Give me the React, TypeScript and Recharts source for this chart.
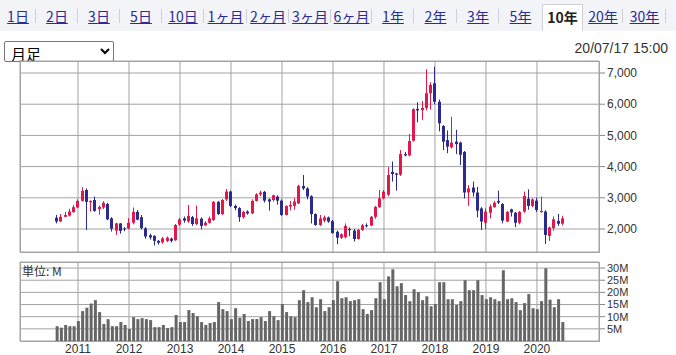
import { ComposedChart, Bar, XAxis, YAxis, CartesianGrid } from "recharts";

// monthly candles, Aug 2010 .. Jul 2020
const FIRST_MONTH = -5; // months from Jan 2011
const YEAR_LABELS = ["2011", "2012", "2013", "2014", "2015", "2016", "2017", "2018", "2019", "2020"];
const PRICE_TICKS = [2000, 3000, 4000, 5000, 6000, 7000];
const VOL_TICKS = [5, 10, 15, 20, 25, 30];
const TABS = ["1日", "2日", "3日", "5日", "10日", "1ヶ月", "2ヶ月", "3ヶ月", "6ヶ月", "1年", "2年", "3年", "5年", "10年", "20年", "30年"];
const ACTIVE_TAB = "10年";

const OPEN = [
  2360, 2240, 2390, 2430, 2540,
  2690, 2900, 3250, 2860, 2930, 2640, 2690, 2800, 2340, 1950, 2180, 2020,
  2020, 2200, 2550, 2380, 2020, 1800, 1780, 1620, 1570, 1620, 1690, 1640,
  2140, 2340, 2240, 2380, 2160, 2330, 2120, 2200, 2290, 2870, 2480, 2950,
  3200, 2740, 2670, 2380, 2560, 2500, 2900, 3110, 3190, 2950, 2930, 3040,
  2910, 2450, 2720, 2740, 2820, 3380, 3300, 3050, 2480, 2130, 2270, 2370,
  2250, 1910, 1720, 1740, 2000, 1950, 1680, 1970, 2120, 2110, 2390, 2700,
  2980, 3100, 3830, 3780, 3740, 4400, 4360, 4830, 5850, 5810, 5880, 6350,
  6670, 6080, 5300, 4850, 4620, 4800, 4770, 4470, 3170, 3330, 3170, 2660,
  2200, 2520, 2700, 2900, 2800, 2240, 2630, 2520, 2200, 2560, 2970, 2740,
  2910, 2540, 2560, 1780, 2030, 2260, 2170,
];
const HIGH = [
  2450, 2480, 2550, 2650, 2770,
  2950, 3340, 3300, 2920, 3040, 2750, 2890, 2840, 2380, 2200, 2190, 2060,
  2350, 2690, 2610, 2450, 2060, 1850, 1800, 1650, 1750, 1760, 1730, 2160,
  2350, 2400, 2770, 2420, 2750, 2370, 2250, 2400, 2900, 2900, 2960, 3280,
  3230, 2780, 2700, 2580, 2600, 2950, 3150, 3230, 3220, 2980, 3100, 3080,
  2950, 2760, 2900, 2990, 3420, 3730, 3340, 3080, 2500, 2450, 2430, 2400,
  2290, 1950, 1860, 2180, 2050, 2000, 2000, 2160, 2180, 2420, 2740, 3250,
  3250, 3980, 4160, 3800, 4530, 4470, 5050, 5870, 6060, 6100, 7120, 6700,
  7200, 6150, 5330, 5160, 5600, 5180, 4800, 4500, 3410, 3520, 3350, 2700,
  2660, 2790, 2900, 3230, 2830, 2580, 2650, 2550, 2580, 3200, 3270, 2980,
  3000, 3040, 2600, 2080, 2400, 2480, 2420,
];
const LOW = [
  2180, 2230, 2380, 2400, 2520,
  2670, 2880, 1970, 2560, 2550, 2460, 2640, 2280, 1920, 1810, 1850, 1930,
  1990, 2150, 2280, 1990, 1690, 1660, 1470, 1500, 1530, 1580, 1570, 1620,
  2100, 2200, 2200, 2100, 2130, 1990, 2090, 2170, 2260, 2450, 2450, 2900,
  2700, 2600, 2230, 2330, 2460, 2480, 2880, 3050, 2850, 2590, 2880, 2780,
  2420, 2430, 2600, 2620, 2800, 3250, 2950, 2180, 2100, 2100, 2220, 2200,
  1850, 1510, 1680, 1700, 1770, 1600, 1660, 1940, 2050, 2090, 2330, 2680,
  2950, 3050, 3520, 3230, 3700, 4330, 4330, 4800, 5420, 5500, 5800, 5830,
  6000, 5130, 4530, 4430, 4580, 4400, 4050, 2980, 2740, 3040, 2370, 1970,
  2000, 2340, 2680, 2800, 2180, 2220, 2400, 2060, 2150, 2520, 2620, 2700,
  2550, 2520, 1520, 1620, 1950, 2100, 2120,
];
const CLOSE = [
  2240, 2390, 2450, 2560, 2700,
  2900, 3220, 2870, 2900, 2580, 2710, 2840, 2310, 2010, 2180, 1940, 1990,
  2200, 2550, 2300, 2030, 1760, 1730, 1620, 1560, 1700, 1720, 1620, 2130,
  2310, 2270, 2420, 2160, 2340, 2100, 2200, 2340, 2870, 2480, 2930, 3200,
  2740, 2670, 2380, 2550, 2500, 2900, 3110, 3170, 2910, 2880, 3080, 2910,
  2450, 2740, 2770, 2880, 3380, 3300, 3040, 2480, 2130, 2340, 2370, 2240,
  1870, 1720, 1830, 2100, 1960, 1680, 1970, 2120, 2100, 2390, 2710, 2980,
  3200, 3730, 3760, 3740, 4400, 4360, 4820, 5840, 5800, 5880, 6350, 6620,
  6080, 5390, 4800, 4640, 4770, 4720, 4380, 3170, 3300, 3170, 2590, 2240,
  2560, 2720, 2840, 2850, 2270, 2550, 2530, 2200, 2550, 3060, 2740, 2950,
  2610, 2580, 1810, 2050, 2310, 2170, 2340,
];
// volume, millions of shares
const VOLUME = [
  6.1, 5.5, 6.6, 6.1, 6.1,
  8.2, 12.3, 13.7, 15.4, 16.8, 11.9, 7.0, 9.0, 6.1, 6.1, 7.8, 6.6,
  4.9, 9.8, 9.0, 9.4, 9.0, 8.6, 5.7, 5.7, 6.6, 5.3, 5.7, 10.7,
  7.8, 7.8, 12.7, 11.5, 10.2, 7.8, 6.6, 7.4, 7.8, 16.0, 13.1, 12.3,
  9.0, 13.5, 9.6, 11.1, 8.2, 9.0, 9.0, 9.8, 8.2, 12.3, 10.2, 8.6,
  15.2, 11.9, 10.2, 9.8, 16.8, 20.9, 16.0, 18.0, 13.9, 17.2, 12.3, 13.9,
  16.8, 24.6, 17.6, 18.0, 16.4, 16.8, 17.2, 13.1, 11.1, 12.7, 17.6, 24.2,
  17.2, 26.6, 29.5, 22.5, 23.8, 18.9, 16.4, 21.3, 20.1, 16.8, 18.4, 14.3,
  15.2, 24.2, 24.2, 17.2, 17.2, 14.8, 16.4, 25.0, 20.9, 20.9, 25.0, 18.9,
  17.2, 18.0, 17.2, 16.4, 29.1, 17.2, 17.6, 16.0, 12.7, 15.6, 19.3, 13.5,
  13.1, 16.4, 29.9, 17.0, 13.9, 17.2, 7.8,
];

const UP = "#e3174c";
const DOWN = "#2b2a8e";
const GRID = "#a3a3a3";
const TEXT = "#333";
const FONT = "'Liberation Sans', Arial, sans-serif";
const JP = "'Noto Sans CJK JP', sans-serif";
const X_DOMAIN: [number, number] = [-13.65, 122.6];
const YEAR_TICKS = YEAR_LABELS.map((y) => (Number(y) - 2011) * 12);

const rows = OPEN.map((o, i) => ({
  m: FIRST_MONTH + i,
  range: [LOW[i], HIGH[i]] as [number, number],
  open: o,
  close: CLOSE[i],
  vol: VOLUME[i],
}));

function Candle(props: any) {
  const { x, y, width, height, payload } = props;
  const [lo, hi] = payload.range;
  const k = height / (hi - lo);
  const yO = y + (hi - payload.open) * k;
  const yC = y + (hi - payload.close) * k;
  const color = payload.close >= payload.open ? UP : DOWN;
  const c = Math.round(x + width / 2);
  const top = Math.min(yO, yC);
  return (
    <g>
      <line x1={c - 0.5} x2={c - 0.5} y1={y} y2={y + height} stroke={color} strokeWidth={1} />
      <rect x={c - 2} y={top} width={3} height={Math.max(1, Math.abs(yO - yC))} fill={color} />
    </g>
  );
}

const yearTick = (v: number) => YEAR_LABELS[YEAR_TICKS.indexOf(v)] ?? "";

export default function App() {
  const edges = [0, 36, 78, 120, 162, 204, 247, 289, 331, 372, 414, 457, 499, 542, 583, 623, 666];
  return (
    <div style={{ position: "absolute", left: 0, top: 0, width: 676, height: 355, background: "#fff", overflow: "hidden" }}>
      {/* period tabs */}
      <div style={{ position: "absolute", left: 0, top: 0, width: 676, height: 31, background: "#f3f4f8" }} />
      {TABS.map((t, i) => {
        const active = t === ACTIVE_TAB;
        const nextActive = TABS[i + 1] === ACTIVE_TAB;
        return (
          <div key={t} style={{
            position: "absolute", left: edges[i], top: active ? 4 : 0, width: edges[i + 1] - edges[i], height: active ? 27 : 31,
            boxSizing: "border-box", background: active ? "#fff" : "transparent",
            border: active ? "1px solid #d0d0d8" : "none", borderBottom: "none",
            textAlign: "center", lineHeight: active ? "25px" : "33px", fontFamily: JP, fontSize: 14,
          }}>
            <span style={{ color: active ? "#222" : "#2b2b95", fontWeight: active ? 700 : 400, textDecoration: active ? "none" : "underline" }}>{t}</span>
            {!active && !nextActive && (
              <span style={{ position: "absolute", right: 0, top: 9, width: 1, height: 14, background: "#cfd0d6" }} />
            )}
          </div>
        );
      })}

      <select defaultValue="m" style={{ position: "absolute", left: 4, top: 41, width: 110, height: 21, fontSize: 15, fontFamily: JP, padding: "0 2px", border: "1px solid #767676", borderRadius: 2, background: "#fff", color: "#000" }}>
        <option value="m">月足</option>
      </select>
      <div style={{ position: "absolute", right: 8, top: 40, fontFamily: FONT, fontSize: 14, color: TEXT }}>20/07/17 15:00</div>

      {/* price */}
      <div style={{ position: "absolute", left: 0, top: 0 }}>
        <ComposedChart width={676} height={260} data={rows} margin={{ top: 61, right: 0, left: 20, bottom: 8 }}>
          <CartesianGrid stroke={GRID} />
          <XAxis dataKey="m" type="number" domain={X_DOMAIN} ticks={YEAR_TICKS} allowDataOverflow hide />
          <YAxis orientation="right" width={77} domain={[1263, 7385]} ticks={PRICE_TICKS} allowDataOverflow interval={0}
            axisLine={false} tickLine={{ stroke: "#888" }} tickSize={6}
            tick={{ fill: TEXT, fontSize: 12, fontFamily: FONT }} tickFormatter={(v: number) => v.toLocaleString("en-US")} />
          <Bar dataKey="range" barSize={3} shape={Candle} isAnimationActive={false} />
        </ComposedChart>
      </div>
      <div style={{ position: "absolute", left: 20, top: 61, width: 580, height: 192, boxSizing: "border-box", border: `1px solid ${GRID}`, pointerEvents: "none" }} />

      {/* volume */}
      <div style={{ position: "absolute", left: 0, top: 255 }}>
        <ComposedChart width={676} height={100} data={rows} margin={{ top: 7, right: 0, left: 20, bottom: 0 }}>
          <CartesianGrid stroke={GRID} />
          <XAxis dataKey="m" type="number" domain={X_DOMAIN} ticks={YEAR_TICKS} allowDataOverflow height={14} interval={0}
            axisLine={false} tickLine={false} tickSize={0} tickMargin={3}
            tick={{ fill: TEXT, fontSize: 12, fontFamily: FONT }} tickFormatter={yearTick} />
          <YAxis orientation="right" width={77} domain={[0, 32.5]} ticks={VOL_TICKS} allowDataOverflow interval={0}
            axisLine={false} tickLine={{ stroke: "#888" }} tickSize={6}
            tick={{ fill: TEXT, fontSize: 11, fontFamily: FONT }} tickFormatter={(v: number) => `${v}M`} />
          <Bar dataKey="vol" barSize={3} fill="#666" isAnimationActive={false} />
        </ComposedChart>
      </div>
      <div style={{ position: "absolute", left: 20, top: 262, width: 580, height: 80, boxSizing: "border-box", border: `1px solid ${GRID}`, pointerEvents: "none" }} />
      <div style={{ position: "absolute", left: 22, top: 262, fontFamily: JP, fontSize: 12, color: TEXT }}>単位: M</div>
    </div>
  );
}
